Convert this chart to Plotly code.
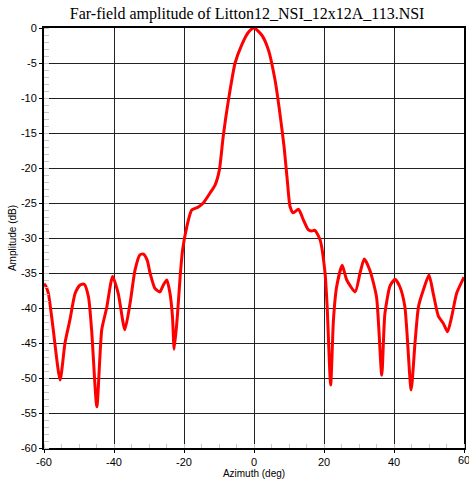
import plotly.graph_objects as go

azimuth = [-60, -59.7, -58.8, -57.5, -55.4, -54, -52.6, -51.1, -49.7, -48.5, -47.3, -46.4, -44.9,
           -43.5, -42.1, -40.4, -38.8, -36.9, -35.4, -34, -32.6, -31.6, -30.5, -29.7, -28.3, -26.9,
           -25.9, -24.9, -24, -23.3, -22.8, -21.9, -21.1, -20.4, -19.2, -17.8, -16, -14.5, -12.6,
           -11.1, -9.9, -8.8, -7.3, -5.4, -3.5, -1.6, 0, 2.2, 4.1, 6, 7.4, 8.6, 9.5, 10.3, 11.2,
           12.7, 14.1, 15.5, 16.5, 17.4, 18.9, 20.3, 20.9, 21.9, 22.7, 23.6, 25.2, 26.5, 28.9, 30.3,
           31.5, 33.1, 35, 36.5, 37.4, 38.9, 40.3, 41.7, 43.1, 44.9, 46, 47, 48.4, 50, 51.2, 52.7,
           54.1, 55.3, 56.5, 57.9, 59.8, 60]
amplitude_db = [-36.6, -36.7, -37.8, -42.5, -50.3, -45, -41.7, -37.9, -36.7, -36.6, -38.4, -43.1, -54.1,
                -43.1, -40, -35.5, -37.9, -43.1, -39.3, -34.6, -32.4, -32.3, -33.2, -35, -37.2, -37.7,
                -36.7, -36, -37.9, -41.2, -45.9, -41.2, -35.5, -31.7, -28.4, -26, -25.6, -25, -23.6,
                -22.4, -20.3, -15.5, -10.3, -5, -2.4, -0.6, 0, -1, -3.1, -7.4, -12.2, -17, -21.7, -25.5, -26.4,
                -25.9, -27.4, -28.8, -29, -28.9, -30.3, -35, -39.8, -51, -41.7, -37, -33.9, -36, -37.7, -35,
                -33, -34.6, -38.4, -49.6, -40.8, -36.8, -35.9, -37, -39.8, -51.7, -45, -39.8, -37.4, -35.3, -37.9, -41.2,
                -42.2, -43.4, -41.2, -37.9, -35.8, -35.6]

x_ticks = [-60, -40, -20, 0, 20, 40, 60]
y_ticks = [0, -5, -10, -15, -20, -25, -30, -35, -40, -45, -50, -55, -60]

fig = go.Figure()
fig.add_trace(go.Scatter(
    x=azimuth, y=amplitude_db, mode="lines",
    line=dict(color="#ff0000", width=3, shape="spline", smoothing=0.6),
    hoverinfo="x+y", showlegend=False,
))

axis_font = dict(family="Liberation Sans, Arial, sans-serif", size=11, color="black")

# last x tick label, which overhangs the page edge (clipped as in the original)
fig.add_annotation(x=x_ticks[-1], y=0, xref="x", yref="paper", text=str(x_ticks[-1]),
                   showarrow=False, xanchor="center", yanchor="top", yshift=-4,
                   font=axis_font)

fig.update_layout(
    width=469, height=487,
    margin=dict(l=44, r=5, t=28, b=39),
    paper_bgcolor="white", plot_bgcolor="white",
    title=dict(text="Far-field amplitude of Litton12_NSI_12x12A_113.NSI",
               font=dict(family="Liberation Serif, Times New Roman, serif", size=16, color="black"),
               x=0.527, xanchor="center", y=0.972, yanchor="middle"),
    xaxis=dict(
        range=[-60, 60], tickvals=x_ticks, ticktext=[str(v) for v in x_ticks],
        showgrid=True, gridcolor="#222222", gridwidth=1,
        showline=True, linecolor="black", linewidth=2, mirror=True,
        ticks="outside", ticklen=3, tickcolor="black",
        tickfont=axis_font, zeroline=False, automargin=False,
        minor=dict(dtick=5, ticks="inside", ticklen=4, tickcolor="#c8c8c8", showgrid=False),
        title=dict(text="Azimuth (deg)", font=dict(family="Liberation Sans, Arial, sans-serif", size=10, color="black"), standoff=2),
    ),
    yaxis=dict(
        range=[-60, 0], tickvals=y_ticks, ticktext=[str(v) for v in y_ticks],
        showgrid=True, gridcolor="#222222", gridwidth=1,
        showline=True, linecolor="black", linewidth=2, mirror=True,
        ticks="outside", ticklen=3, tickcolor="black",
        tickfont=axis_font, zeroline=False, automargin=False,
        minor=dict(dtick=1, ticks="inside", ticklen=5, tickcolor="#c8c8c8", showgrid=False),
        title=dict(text="Amplitude (dB)", font=dict(family="Liberation Sans, Arial, sans-serif", size=10, color="black"), standoff=2),
    ),
)

fig.write_html("out.html")
